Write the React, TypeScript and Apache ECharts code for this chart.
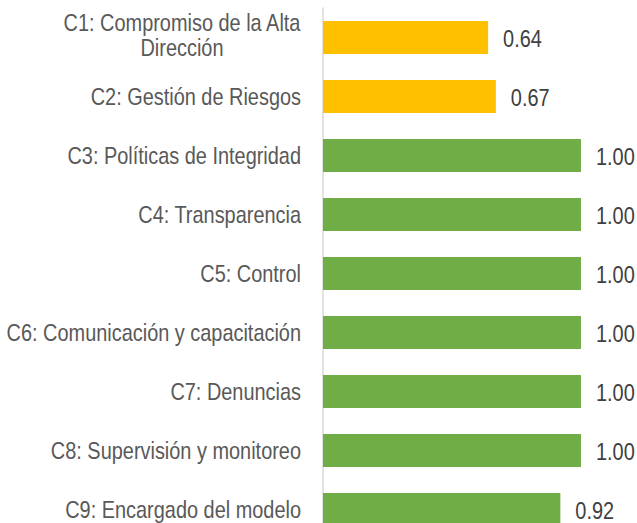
import React, { useEffect, useRef } from "react";
import * as echarts from "echarts";

const categories = [
  "C1: Compromiso de la Alta\nDirección",
  "C2: Gestión de Riesgos",
  "C3: Políticas de Integridad",
  "C4: Transparencia",
  "C5: Control",
  "C6: Comunicación y capacitación",
  "C7: Denuncias",
  "C8: Supervisión y monitoreo",
  "C9: Encargado del modelo",
];
const values = [0.64, 0.67, 1.0, 1.0, 1.0, 1.0, 1.0, 1.0, 0.92];

const FONT = "'Liberation Sans', Arial, sans-serif";
const FONT_SIZE = 24;
const NARROW = 0.83;
const YELLOW = "#FFC000";
const GREEN = "#70AD47";

function measure(text: string): number {
  const c = document.createElement("canvas").getContext("2d");
  if (!c) return text.length * FONT_SIZE * 0.5;
  c.font = FONT_SIZE + "px " + FONT;
  return c.measureText(text).width;
}

export default function App() {
  const ref = useRef<HTMLDivElement>(null);
  useEffect(() => {
    if (!ref.current) return;
    const chart = echarts.init(ref.current, undefined, { renderer: "svg" });
    chart.setOption({
      animation: false,
      backgroundColor: "#ffffff",
      grid: {
        left: 323,
        right: 56,
        top: 8,
        bottom: 1,
        containLabel: false,
        outerBoundsMode: "none",
      },
      xAxis: {
        type: "value",
        min: 0,
        max: 1,
        show: false,
        splitLine: { show: false },
      },
      yAxis: {
        type: "category",
        inverse: true,
        data: categories,
        axisTick: { show: false },
        axisLabel: { show: false },
        axisLine: { show: true, lineStyle: { color: "#D9D9D9", width: 1.5 } },
      },
      series: [
        {
          type: "bar",
          barWidth: 33,
          silent: true,
          data: values.map((v) => ({
            value: v,
            itemStyle: { color: v < 0.8 ? YELLOW : GREEN },
          })),
        },
        {
          // category labels (narrow text)
          type: "custom",
          silent: true,
          clip: false,
          encode: { x: 0, y: 1 },
          data: categories.map((_, i) => [0, i]),
          renderItem: (params: any, api: any) => {
            const i = params.dataIndex;
            const pt = api.coord([0, i]);
            const text = categories[i];
            const anchor = pt[0] - 22;
            const lines = text.split("\n");
            const multi = lines.length > 1;
            const maxW = Math.max(...lines.map(measure));
            return {
              type: "text",
              x: multi ? anchor - (maxW * NARROW) / 2 : anchor,
              y: pt[1] - (multi ? 2 : 0),
              scaleX: NARROW,
              style: {
                text,
                fill: "#595959",
                fontFamily: FONT,
                fontSize: FONT_SIZE,
                lineHeight: 25,
                align: multi ? "center" : "right",
                verticalAlign: "middle",
              },
            };
          },
        },
        {
          // value labels (narrow text)
          type: "custom",
          silent: true,
          clip: false,
          encode: { x: 0, y: 1 },
          data: values.map((v, i) => [v, i]),
          renderItem: (params: any, api: any) => {
            const i = params.dataIndex;
            const v = api.value(0);
            const pt = api.coord([v, i]);
            return {
              type: "text",
              x: pt[0] + 15,
              y: pt[1] + 1,
              scaleX: NARROW,
              style: {
                text: Number(v).toFixed(2),
                fill: "#404040",
                fontFamily: FONT,
                fontSize: FONT_SIZE,
                align: "left",
                verticalAlign: "middle",
              },
            };
          },
        },
      ],
    });
    return () => chart.dispose();
  }, []);
  return (
    <div
      ref={ref}
      style={{ position: "fixed", left: 0, top: 0, width: 637, height: 540, background: "#fff" }}
    />
  );
}
